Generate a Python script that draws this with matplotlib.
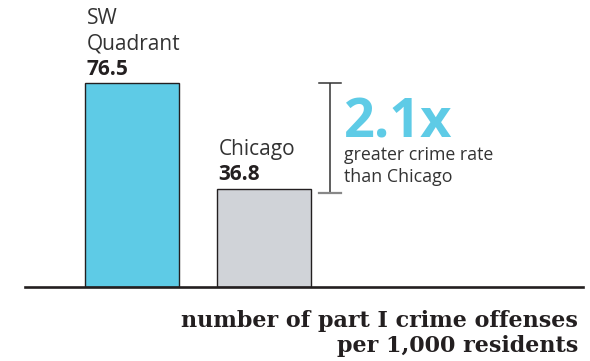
import matplotlib
matplotlib.use("Agg")
import matplotlib.pyplot as plt

categories = ["SW\nQuadrant", "Chicago"]
values = [76.5, 36.8]
bar_colors = ["#5ecbe6", "#d0d3d8"]
ratio_label = "2.1x"
ratio_sub = "greater crime rate\nthan Chicago"
axis_title = ["number of part I crime offenses", "per 1,000 residents"]

SANS = ["Open Sans", "DejaVu Sans"]
SERIF = ["DejaVu Serif", "Liberation Serif"]
DARK = "#231f20"

fig = plt.figure(figsize=(5.9, 3.61), dpi=100)
ax = fig.add_axes([0.0, 0.0, 1.0, 1.0])
ax.set_position([25 / 590, (361 - 286.5) / 361, (583 - 25) / 590, 286.5 / 361])

x = [0, 1]
w = 0.712
ax.bar(x, values, width=w, color=bar_colors, edgecolor=DARK, linewidth=1.0, zorder=2)
ax.set_xlim(-0.811, 3.417)
ax.set_ylim(0, 107.95)

for s in ["top", "left", "right"]:
    ax.spines[s].set_visible(False)
ax.spines["bottom"].set_linewidth(1.9)
ax.spines["bottom"].set_color(DARK)
ax.spines["bottom"].set_zorder(3)
ax.set_xticks([])
ax.set_yticks([])
ax.patch.set_alpha(0)

for xi, v, name in zip(x, values, categories):
    left = xi - w / 2
    ax.annotate(f"{v}", xy=(left, v), xytext=(1, 6), textcoords="offset points",
                ha="left", va="baseline", fontsize=15, fontweight="bold",
                family=SANS, color=DARK)
    ax.annotate(name, xy=(left, v), xytext=(1, 24.5), textcoords="offset points",
                ha="left", va="baseline", fontsize=15, family=SANS, color="#333333",
                linespacing=1.3)

# bracket
bx = 1.5
btop = values[0]
bbot = values[1] - 1.6
tick = 0.083
ax.plot([bx, bx], [bbot, btop], color="#333333", lw=1.1, solid_capstyle="butt")
ax.plot([bx - tick, bx + tick], [btop, btop], color="#333333", lw=1.1)
ax.plot([bx - tick, bx + tick], [bbot, bbot], color="#888888", lw=1.6)

ax.text(bx + 0.105, 56.3, ratio_label, ha="left", va="baseline", fontsize=39,
        fontweight="bold", family=SANS, color="#5ecbe6")
ax.text(bx + 0.105, 39.4, ratio_sub, ha="left", va="baseline", fontsize=12.8,
        family=SANS, color="#333333", linespacing=1.25)

fig.text(578 / 590, 1 - 327 / 361, axis_title[0], ha="right", va="baseline",
         fontsize=16, fontweight="bold", family=SERIF, color=DARK)
fig.text(578 / 590, 1 - 352 / 361, axis_title[1], ha="right", va="baseline",
         fontsize=16, fontweight="bold", family=SERIF, color=DARK)

fig.savefig("out.png", dpi=100)
